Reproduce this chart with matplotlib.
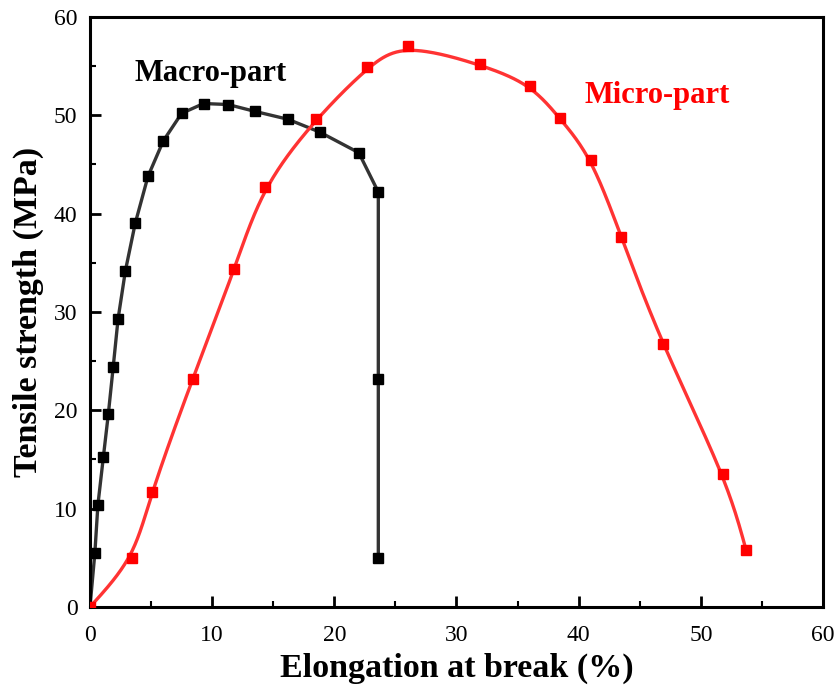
import numpy as np
import matplotlib.pyplot as plt

# Macro-part (black)
macro_x = [0, 0.4, 0.65, 1.1, 1.5, 1.9, 2.3, 2.9, 3.7, 4.75, 6.0, 7.5, 9.3, 11.3, 13.5, 16.2, 18.8, 22.0, 23.6, 23.6, 23.6]
macro_y = [0, 5.5, 10.4, 15.3, 19.6, 24.4, 29.3, 34.2, 39.0, 43.8, 47.4, 50.2, 51.2, 51.1, 50.4, 49.6, 48.3, 46.2, 42.2, 23.2, 5.0]

# Micro-part (red)
micro_x = [0, 3.4, 5.1, 8.4, 11.8, 14.3, 18.5, 22.7, 26.0, 31.9, 36.0, 38.5, 41.0, 43.5, 46.9, 51.8, 53.7]
micro_y = [0, 5.0, 11.7, 23.2, 34.4, 42.7, 49.6, 54.9, 57.0, 55.2, 53.0, 49.7, 45.5, 37.6, 26.7, 13.5, 5.8]


def bspline(x, y, alpha=0.4, n=40):
    # cubic B-spline; control points are a mix of the data points and the
    # control points that would make the curve interpolate (alpha=1)
    p = np.column_stack([x, y]).astype(float)
    m = len(p)
    A = np.zeros((m, m))
    A[0, 0] = A[-1, -1] = 1
    for i in range(1, m - 1):
        A[i, i - 1:i + 2] = [1 / 6, 4 / 6, 1 / 6]
    c = alpha * np.linalg.solve(A, p) + (1 - alpha) * p
    c = np.vstack([2 * c[0] - c[1], c, 2 * c[-1] - c[-2]])
    t = np.linspace(0, 1, n)
    B = np.column_stack([(1 - t) ** 3,
                         3 * t ** 3 - 6 * t ** 2 + 4,
                         -3 * t ** 3 + 3 * t ** 2 + 3 * t + 1,
                         t ** 3]) / 6
    out = np.vstack([B @ c[i:i + 4] for i in range(len(c) - 3)])
    return out[:, 0], out[:, 1]


plt.rcParams['font.family'] = ['Liberation Serif', 'DejaVu Serif']

fig = plt.figure(figsize=(8.37, 6.91), dpi=100)
ax = fig.add_axes([0.1075, 0.1216, 0.8758, 0.8538])

ax.plot(macro_x, macro_y, color='#333333', lw=2.4, zorder=2)
ax.plot(macro_x[1:], macro_y[1:], 's', color='black', ms=7.5, zorder=3)

sx, sy = bspline(micro_x, micro_y)
ax.plot(sx, sy, color='#ff3333', lw=2.4, zorder=2)
ax.plot(micro_x, micro_y, 's', color='red', ms=7.5, zorder=4)

ax.text(9.9, 54.3, 'Macro-part', fontsize=22, fontweight='bold', color='black',
        ha='center', va='center')
ax.text(46.4, 52.0, 'Micro-part', fontsize=22, fontweight='bold', color='red',
        ha='center', va='center')

ax.set_xlim(0, 60)
ax.set_ylim(0, 60)
ax.set_xticks(np.arange(0, 61, 10))
ax.set_yticks(np.arange(0, 61, 10))
ax.set_xticks(np.arange(5, 60, 10), minor=True)
ax.set_yticks(np.arange(5, 60, 10), minor=True)
ax.tick_params(which='major', direction='in', length=8, width=2, labelsize=17)
ax.tick_params(axis='x', which='major', pad=13)
ax.tick_params(axis='y', which='major', pad=9)
ax.tick_params(which='minor', direction='in', length=4, width=1.5)
for s in ax.spines.values():
    s.set_linewidth(2.2)

ax.set_xlabel('Elongation at break (%)', fontsize=24.5, fontweight='bold', labelpad=5)
ax.set_ylabel('Tensile strength (MPa)', fontsize=24.5, fontweight='bold', labelpad=7)

fig.savefig('out.png', dpi=100)
